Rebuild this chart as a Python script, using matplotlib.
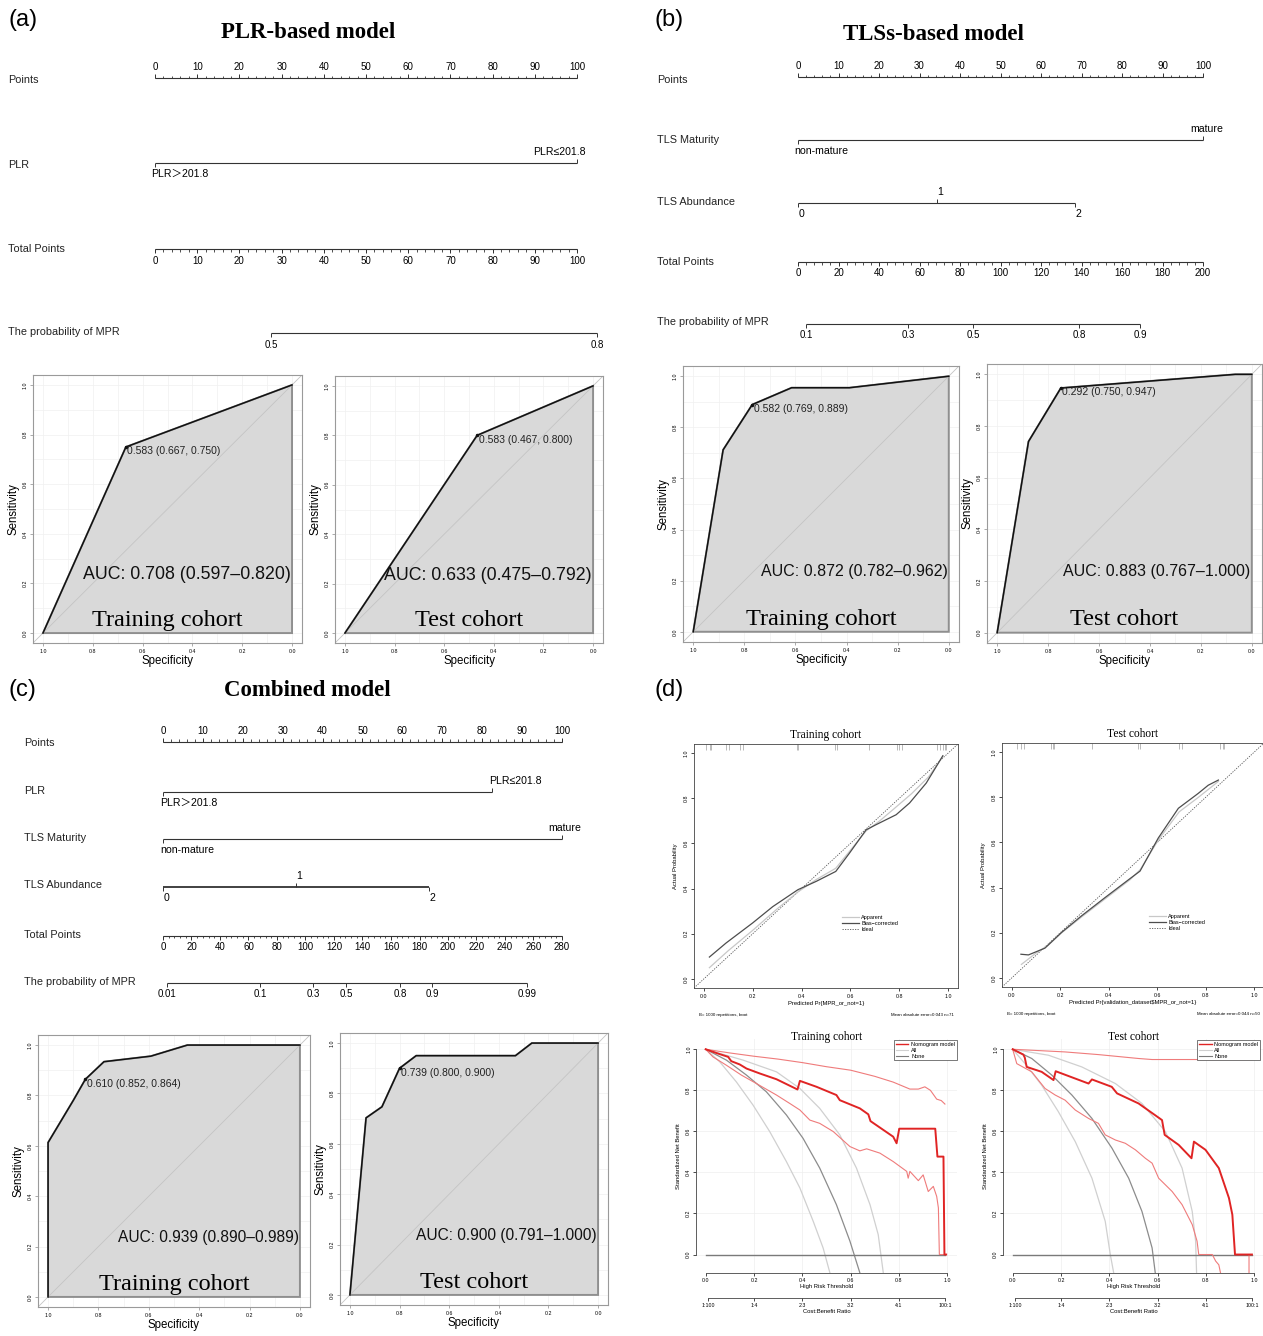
import numpy as np
import matplotlib.pyplot as plt
from matplotlib.lines import Line2D

plt.rcParams['font.family'] = ['Liberation Sans', 'Noto Sans CJK SC', 'DejaVu Sans']
SERIF = ['Liberation Serif', 'DejaVu Serif']

# ---------------- nomogram data (points units, total points units) ----------------
points_ticks = list(range(0, 101, 10))
points_minor = list(range(0, 101, 2))

# (a) PLR-based model
a_plr_pts = [0, 100]
a_plr_labels = ['PLR＞201.8', 'PLR≤201.8']
a_total_ticks = list(range(0, 101, 10))
a_total_max = 100
a_prob_labels = ['0.5', '0.8']
a_prob_tp = [27.5, 104.7]

# (b) TLSs-based model
b_mat_pts = [0, 100]
b_mat_labels = ['non-mature', 'mature']
b_abund_pts = [0, 34.3, 68.4]
b_abund_labels = ['0', '1', '2']
b_total_ticks = list(range(0, 201, 20))
b_total_max = 200
b_prob_labels = ['0.1', '0.3', '0.5', '0.8', '0.9']
b_prob_tp = [4.0, 54.3, 86.4, 138.8, 168.9]

# (c) combined model
c_plr_pts = [0, 82.5]
c_mat_pts = [0, 100]
c_abund_pts = [0, 33.3, 66.7]
c_total_ticks = list(range(0, 281, 20))
c_total_max = 280
c_prob_labels = ['0.01', '0.1', '0.3', '0.5', '0.8', '0.9', '0.99']
c_prob_tp = [2.8, 68.1, 105.3, 128.4, 166.3, 188.8, 255.4]

# ---------------- ROC data (specificity, sensitivity) ----------------
roc_a_tr_spec = [1.0, 0.667, 0.0]
roc_a_tr_sens = [0.0, 0.750, 1.0]
roc_a_te_spec = [1.0, 0.467, 0.0]
roc_a_te_sens = [0.0, 0.800, 1.0]
roc_b_tr_spec = [1.0, 0.883, 0.769, 0.615, 0.389, 0.0]
roc_b_tr_sens = [0.0, 0.712, 0.889, 0.955, 0.955, 1.0]
roc_b_te_spec = [1.0, 0.877, 0.750, 0.065, 0.0]
roc_b_te_sens = [0.0, 0.740, 0.947, 1.0, 1.0]
roc_c_tr_spec = [1.0, 1.0, 0.90, 0.852, 0.778, 0.592, 0.447, 0.0]
roc_c_tr_sens = [0.0, 0.613, 0.78, 0.864, 0.934, 0.956, 1.0, 1.0]
roc_c_te_spec = [1.0, 0.935, 0.871, 0.800, 0.733, 0.333, 0.267, 0.0]
roc_c_te_sens = [0.0, 0.703, 0.747, 0.900, 0.950, 0.950, 1.0, 1.0]

# ---------------- calibration data ----------------
cal_tr_bias_x = [0.023, 0.091, 0.2, 0.282, 0.385, 0.46, 0.54, 0.596, 0.664, 0.705, 0.787, 0.842, 0.91, 0.978]
cal_tr_bias_y = [0.097, 0.159, 0.248, 0.32, 0.395, 0.432, 0.476, 0.557, 0.66, 0.683, 0.727, 0.779, 0.867, 0.988]
cal_tr_app_x = [0.023, 0.1, 0.2, 0.3, 0.385, 0.46, 0.54, 0.6, 0.664, 0.72, 0.78, 0.85, 0.92, 0.978]
cal_tr_app_y = [0.05, 0.125, 0.215, 0.31, 0.385, 0.44, 0.49, 0.57, 0.655, 0.70, 0.755, 0.82, 0.895, 0.985]
cal_tr_rug = [0.01, 0.025, 0.03, 0.09, 0.105, 0.15, 0.16, 0.38, 0.385, 0.535, 0.545, 0.675,
              0.79, 0.80, 0.81, 0.955, 0.965, 0.98, 0.985, 0.99]
cal_te_bias_x = [0.038, 0.069, 0.137, 0.206, 0.288, 0.385, 0.488, 0.529, 0.604, 0.687, 0.769, 0.81, 0.852]
cal_te_bias_y = [0.105, 0.102, 0.132, 0.202, 0.275, 0.356, 0.44, 0.473, 0.619, 0.751, 0.817, 0.853, 0.876]
cal_te_app_x = [0.04, 0.1, 0.15, 0.206, 0.288, 0.385, 0.488, 0.53, 0.604, 0.69, 0.77, 0.852]
cal_te_app_y = [0.06, 0.11, 0.145, 0.2, 0.27, 0.35, 0.435, 0.48, 0.61, 0.735, 0.80, 0.87]
cal_te_rug = [0.02, 0.04, 0.05, 0.16, 0.17, 0.175, 0.33, 0.52, 0.53, 0.69, 0.70, 0.86, 0.87, 0.875]

# ---------------- decision curve data ----------------
dca_tr_model_x = [0, 0.051, 0.093, 0.106, 0.141, 0.169, 0.224, 0.293, 0.38, 0.39, 0.459, 0.541, 0.555,
                  0.638, 0.673, 0.682, 0.776, 0.79, 0.801, 0.95, 0.959, 0.984, 0.988, 0.995]
dca_tr_model_y = [1, 0.979, 0.963, 0.942, 0.926, 0.906, 0.882, 0.854, 0.804, 0.846, 0.817, 0.777, 0.752,
                  0.712, 0.683, 0.65, 0.574, 0.542, 0.613, 0.613, 0.477, 0.477, 0.0, 0.0]
dca_tr_up_x = [0, 0.1, 0.2, 0.3, 0.4, 0.5, 0.6, 0.7, 0.776, 0.845, 0.88, 0.907, 0.93, 0.956, 0.975, 0.99]
dca_tr_up_y = [1, 0.982, 0.966, 0.952, 0.935, 0.915, 0.898, 0.868, 0.84, 0.806, 0.806, 0.817, 0.80, 0.757, 0.75, 0.733]
dca_tr_lo_x = [0, 0.03, 0.086, 0.148, 0.21, 0.293, 0.348, 0.39, 0.431, 0.472, 0.528, 0.597, 0.638, 0.666,
               0.721, 0.776, 0.832, 0.838, 0.845, 0.88, 0.9, 0.921, 0.942, 0.956, 0.963, 0.967, 0.99]
dca_tr_lo_y = [1, 0.963, 0.922, 0.874, 0.833, 0.777, 0.736, 0.704, 0.655, 0.639, 0.599, 0.526, 0.505, 0.515,
               0.494, 0.453, 0.405, 0.372, 0.405, 0.36, 0.388, 0.307, 0.332, 0.283, 0.227, 0.0, 0.0]
dca_tr_all = [
    ([0, 0.058, 0.127, 0.196, 0.265, 0.334, 0.39, 0.445, 0.486, 0.514],
     [1, 0.939, 0.841, 0.728, 0.599, 0.453, 0.324, 0.162, 0.032, -0.089]),
    ([0, 0.086, 0.169, 0.251, 0.334, 0.403, 0.472, 0.541, 0.597, 0.638],
     [1, 0.947, 0.874, 0.793, 0.68, 0.566, 0.421, 0.243, 0.065, -0.089]),
    ([0, 0.155, 0.293, 0.39, 0.472, 0.555, 0.624, 0.68, 0.714, 0.735],
     [1, 0.947, 0.89, 0.809, 0.712, 0.583, 0.421, 0.243, 0.097, -0.089]),
]
dca_te_model_x = [0, 0.044, 0.05, 0.058, 0.12, 0.169, 0.178, 0.314, 0.328, 0.41, 0.432, 0.521, 0.618, 0.629,
                  0.687, 0.74, 0.75, 0.798, 0.853, 0.895, 0.909, 0.92, 0.99]
dca_te_model_y = [1, 0.974, 0.96, 0.914, 0.89, 0.85, 0.893, 0.833, 0.853, 0.817, 0.785, 0.736, 0.655, 0.583,
                  0.534, 0.469, 0.55, 0.51, 0.421, 0.275, 0.194, 0.0, 0.0]
dca_te_up_x = [0, 0.217, 0.355, 0.521, 0.577, 0.8, 0.99]
dca_te_up_y = [1, 0.987, 0.974, 0.955, 0.95, 0.95, 0.95]
dca_te_lo_x = [0, 0.017, 0.079, 0.134, 0.176, 0.217, 0.259, 0.314, 0.355, 0.383, 0.425, 0.466, 0.508, 0.549,
               0.577, 0.604, 0.66, 0.701, 0.743, 0.763, 0.77, 0.826, 0.84, 0.853, 0.86, np.nan, 0.978, 0.978]
dca_te_lo_y = [1, 0.93, 0.89, 0.809, 0.777, 0.752, 0.704, 0.663, 0.639, 0.583, 0.558, 0.542, 0.51, 0.469,
               0.445, 0.372, 0.307, 0.243, 0.146, 0.065, 0.0, 0.0, -0.032, -0.05, -0.089, np.nan, 0.0, -0.089]
dca_te_all = [
    ([0, 0.051, 0.12, 0.189, 0.259, 0.328, 0.383, 0.404, 0.418],
     [1, 0.93, 0.825, 0.696, 0.55, 0.372, 0.162, 0.0, -0.089]),
    ([0, 0.079, 0.162, 0.245, 0.328, 0.411, 0.48, 0.535, 0.577, 0.59],
     [1, 0.955, 0.874, 0.777, 0.663, 0.518, 0.372, 0.21, 0.032, -0.089]),
    ([0, 0.148, 0.286, 0.425, 0.535, 0.632, 0.701, 0.743, 0.757, 0.761],
     [1, 0.971, 0.914, 0.833, 0.736, 0.599, 0.421, 0.21, 0.065, -0.089]),
]
cb_pos = [0.01, 0.2, 0.4, 0.6, 0.8, 0.99]
cb_labels = ['1:100', '1:4', '2:3', '3:2', '4:1', '100:1']

# ---------------- figure ----------------
W, H = 1263, 1336
fig = plt.figure(figsize=(W / 100, H / 100), dpi=100)
fig.patch.set_facecolor('white')


def px_axes(x0, y0, x1, y1):
    return fig.add_axes([x0 / W, 1 - y1 / H, (x1 - x0) / W, (y1 - y0) / H])


def fig_text(x, y, s, **kw):
    fig.text(x / W, 1 - y / H, s, **kw)


LINE = '#333333'
TICKFS = 7.0
CATFS = 7.6
ROWFS = 7.8


def nomo_axes(x0, x1, ytop, ybot, p0, p100):
    ax = px_axes(x0, ytop, x1, ybot)
    s = (p100 - p0) / 100.0
    ax.set_xlim((x0 - p0) / s, (x1 - p0) / s)
    ax.set_ylim(ybot, ytop)
    ax.axis('off')
    ax.lx = (lambda px: (px - x0) / (x1 - x0))
    return ax


def row_name(ax, px, y, name):
    ax.text(ax.lx(px), y, name, transform=ax.get_yaxis_transform(), fontsize=ROWFS,
            ha='left', va='center', color='#222222')


def axis_row(ax, y, pos, labels, above, minor=None, lw=0.8):
    ax.plot([min(pos), max(pos)], [y, y], color=LINE, lw=lw, solid_capstyle='butt')
    sign = -1 if above else 1
    ax.vlines(pos, y, y + sign * 4, color=LINE, lw=0.7)
    if minor is not None:
        ax.vlines(minor, y, y + sign * 2.5, color=LINE, lw=0.6)
    for p, lab in zip(pos, labels):
        if above:
            ax.text(p, y - 6, lab, ha='center', va='bottom', fontsize=TICKFS)
        else:
            ax.text(p, y + 6.5, lab, ha='center', va='top', fontsize=TICKFS)


def cat_row(ax, y, pos, labels, above, ha, lw=0.8):
    ax.plot([min(pos), max(pos)], [y, y], color=LINE, lw=lw, solid_capstyle='butt')
    for p, lab, up, h in zip(pos, labels, above, ha):
        sign = -1 if up else 1
        ax.vlines([p], y, y + sign * 4, color=LINE, lw=0.7)
        dx = {'left': -0.8, 'right': 2.0, 'center': 0.8}[h]
        if up:
            ax.text(p + dx, y - 6, lab, ha=h, va='bottom', fontsize=CATFS)
        else:
            ax.text(p + dx, y + 6, lab, ha=h, va='top', fontsize=CATFS)


def scaled(vals, vmax):
    return [v * 100.0 / vmax for v in vals]


# ---- (a) nomogram
fig_text(8, 20, '(a)', fontsize=17, ha='left', va='center')
fig_text(308, 33, 'PLR-based model', family=SERIF, fontweight='bold', fontsize=16.5, ha='center', va='center')
ax = nomo_axes(0, 640, 45, 360, 155, 577)
row_name(ax, 8, 80, 'Points')
axis_row(ax, 78, points_ticks, [str(t) for t in points_ticks], True, minor=points_minor)
row_name(ax, 8, 165, 'PLR')
cat_row(ax, 163, a_plr_pts, a_plr_labels, [False, True], ['left', 'right'])
row_name(ax, 8, 249, 'Total Points')
axis_row(ax, 249, scaled(a_total_ticks, a_total_max), [str(t) for t in a_total_ticks], False,
         minor=scaled(range(0, a_total_max + 1, 2), a_total_max))
row_name(ax, 8, 332, 'The probability of MPR')
axis_row(ax, 333, scaled(a_prob_tp, a_total_max), a_prob_labels, False)

# ---- (b) nomogram
fig_text(655, 20, '(b)', fontsize=17, ha='left', va='center')
fig_text(934, 35, 'TLSs-based model', family=SERIF, fontweight='bold', fontsize=16.5, ha='center', va='center')
ax = nomo_axes(645, 1263, 45, 350, 798, 1203)
row_name(ax, 657, 80, 'Points')
axis_row(ax, 77, points_ticks, [str(t) for t in points_ticks], True, minor=points_minor)
row_name(ax, 657, 140, 'TLS Maturity')
cat_row(ax, 140, b_mat_pts, b_mat_labels, [False, True], ['left', 'center'])
row_name(ax, 657, 202, 'TLS Abundance')
cat_row(ax, 203, b_abund_pts, b_abund_labels, [False, True, False], ['center', 'center', 'center'])
row_name(ax, 657, 262, 'Total Points')
axis_row(ax, 262, scaled(b_total_ticks, b_total_max), [str(t) for t in b_total_ticks], False,
         minor=scaled(range(0, b_total_max + 1, 4), b_total_max))
row_name(ax, 657, 322, 'The probability of MPR')
axis_row(ax, 324, scaled(b_prob_tp, b_total_max), b_prob_labels, False)

# ---- (c) nomogram
fig_text(8, 690, '(c)', fontsize=17, ha='left', va='center')
fig_text(307, 690, 'Combined model', family=SERIF, fontweight='bold', fontsize=16.5, ha='center', va='center')
ax = nomo_axes(0, 640, 712, 1008, 163, 562)
row_name(ax, 24, 743, 'Points')
axis_row(ax, 742, points_ticks, [str(t) for t in points_ticks], True, minor=points_minor)
row_name(ax, 24, 791, 'PLR')
cat_row(ax, 792, c_plr_pts, a_plr_labels, [False, True], ['left', 'left'])
row_name(ax, 24, 838, 'TLS Maturity')
cat_row(ax, 839, c_mat_pts, b_mat_labels, [False, True], ['left', 'center'])
row_name(ax, 24, 885, 'TLS Abundance')
cat_row(ax, 887, c_abund_pts, b_abund_labels, [False, True, False], ['center', 'center', 'center'], lw=1.3)
row_name(ax, 24, 935, 'Total Points')
axis_row(ax, 936, scaled(c_total_ticks, c_total_max), [str(t) for t in c_total_ticks], False,
         minor=scaled(range(0, c_total_max + 1, 4), c_total_max))
row_name(ax, 24, 982, 'The probability of MPR')
axis_row(ax, 983, scaled(c_prob_tp, c_total_max), c_prob_labels, False)


# ---------------- ROC panels ----------------
def roc_panel(rect, spec, sens, thr, thr_text, auc_text, cohort, auc_fs=11.5):
    ax = px_axes(*rect)
    ax.set_xlim(1.04, -0.04)
    ax.set_ylim(-0.04, 1.04)
    for v in np.arange(0.0, 1.01, 0.1):
        ax.axvline(v, color='#f0f0f0', lw=0.5, zorder=0)
        ax.axhline(v, color='#f0f0f0', lw=0.5, zorder=0)
    ax.fill(list(spec) + [0.0], list(sens) + [0.0], facecolor='#d9d9d9', edgecolor='#8f8f8f',
            lw=1.4, zorder=1)
    ax.plot([1.04, -0.04], [-0.04, 1.04], color='#c4c4c4', lw=0.6, zorder=2)
    ax.plot(spec, sens, color='#111111', lw=1.1, zorder=3)
    ax.plot([thr[0]], [thr[1]], 'o', ms=1.5, color='#111111', zorder=4)
    ax.text(thr[0] - 0.006, thr[1] + 0.003, thr_text, ha='left', va='top', fontsize=7.5,
            color='#222222', zorder=5)
    ax.text(0.005, 0.235, auc_text, ha='right', va='center', fontsize=auc_fs, color='#111111', zorder=5)
    ax.text(0.5, 0.05, cohort, ha='center', va='center', family=SERIF, fontsize=17.5, zorder=5)
    ticks = [1.0, 0.8, 0.6, 0.4, 0.2, 0.0]
    ax.set_xticks(ticks, ['%.1f' % t for t in ticks])
    ax.set_yticks(ticks, ['%.1f' % t for t in ticks])
    ax.tick_params(labelsize=3.8, length=2, width=0.5, color='#888888', pad=2)
    for lab in ax.get_yticklabels():
        lab.set_rotation(90)
        lab.set_va('center')
    for sp in ax.spines.values():
        sp.set_color('#9a9a9a')
        sp.set_linewidth(0.8)
    ax.set_xlabel('Specificity', fontsize=8.3, labelpad=1)
    ax.set_ylabel('Sensitivity', fontsize=8.3, labelpad=2)
    return ax


roc_panel((33, 375, 302, 643), roc_a_tr_spec, roc_a_tr_sens, (0.667, 0.750), '0.583 (0.667, 0.750)',
          'AUC: 0.708 (0.597–0.820)', 'Training cohort', auc_fs=12.8)
roc_panel((335, 376, 603, 643), roc_a_te_spec, roc_a_te_sens, (0.467, 0.800), '0.583 (0.467, 0.800)',
          'AUC: 0.633 (0.475–0.792)', 'Test cohort', auc_fs=12.8)
roc_panel((683, 366, 959, 642), roc_b_tr_spec, roc_b_tr_sens, (0.769, 0.889), '0.582 (0.769, 0.889)',
          'AUC: 0.872 (0.782–0.962)', 'Training cohort')
roc_panel((987, 364, 1262, 643), roc_b_te_spec, roc_b_te_sens, (0.750, 0.947), '0.292 (0.750, 0.947)',
          'AUC: 0.883 (0.767–1.000)', 'Test cohort')
roc_panel((38, 1035, 310, 1307), roc_c_tr_spec, roc_c_tr_sens, (0.852, 0.864), '0.610 (0.852, 0.864)',
          'AUC: 0.939 (0.890–0.989)', 'Training cohort', auc_fs=11.2)
roc_panel((340, 1033, 608, 1305), roc_c_te_spec, roc_c_te_sens, (0.800, 0.900), '0.739 (0.800, 0.900)',
          'AUC: 0.900 (0.791–1.000)', 'Test cohort', auc_fs=11.2)

# ---------------- (d) calibration ----------------
fig_text(655, 690, '(d)', fontsize=17, ha='left', va='center')


def calib_panel(rect, title, xlabel, app_x, app_y, bias_x, bias_y, rug, mae_text):
    ax = px_axes(*rect)
    ax.set_xlim(-0.04, 1.04)
    ax.set_ylim(-0.04, 1.04)
    l_ideal, = ax.plot([-0.04, 1.04], [-0.04, 1.04], ls=(0, (1.5, 1.5)), color='#555555', lw=0.6)
    l_app, = ax.plot(app_x, app_y, color='#c8c8c8', lw=0.9)
    l_bias, = ax.plot(bias_x, bias_y, color='#4d4d4d', lw=0.9)
    ax.vlines(rug, 1.015, 1.04, color='#a0a0a0', lw=0.5)
    ax.legend([l_app, l_bias, l_ideal], ['Apparent', 'Bias−corrected', 'Ideal'], loc='upper left',
              bbox_to_anchor=(0.55, 0.31), frameon=False, fontsize=4, handlelength=3,
              labelspacing=0.15, borderpad=0, handletextpad=0.5)
    ticks = [0.0, 0.2, 0.4, 0.6, 0.8, 1.0]
    ax.set_xticks(ticks, ['%.1f' % t for t in ticks])
    ax.set_yticks(ticks, ['%.1f' % t for t in ticks])
    ax.tick_params(labelsize=3.8, length=2, width=0.5, pad=2)
    for lab in ax.get_yticklabels():
        lab.set_rotation(90)
        lab.set_va('center')
    for sp in ax.spines.values():
        sp.set_linewidth(0.6)
        sp.set_color('#444444')
    ax.set_title(title, family=SERIF, fontsize=8.3, pad=4)
    ax.set_xlabel(xlabel, fontsize=4.2, labelpad=2)
    ax.set_ylabel('Actual Probability', fontsize=4.2, labelpad=4)
    ax.text(0.02, -0.11, 'B= 1000 repetitions, boot', transform=ax.transAxes, fontsize=3.2, va='center')
    ax.text(0.985, -0.11, mae_text, transform=ax.transAxes, fontsize=3.2, va='center', ha='right')
    return ax


calib_panel((694, 744, 958, 988), 'Training cohort', 'Predicted Pr{MPR_or_not=1}',
            cal_tr_app_x, cal_tr_app_y, cal_tr_bias_x, cal_tr_bias_y, cal_tr_rug,
            'Mean absolute error=0.043 n=71')
calib_panel((1002, 743, 1264, 987), 'Test cohort', r'Predicted Pr{validation_dataset\$MPR_or_not=1}',
            cal_te_app_x, cal_te_app_y, cal_te_bias_x, cal_te_bias_y, cal_te_rug,
            'Mean absolute error=0.044 n=50')


# ---------------- (d) decision curves ----------------
def dca_panel(rect, title, mx, my, ux, uy, lox, loy, all_curves, leg_loc, leg_anchor):
    ax = px_axes(*rect)
    ax.set_xlim(-0.04, 1.04)
    ax.set_ylim(-0.09, 1.05)
    for v in [0.2, 0.4, 0.6, 0.8, 1.0]:
        ax.axvline(v, color='#eeeeee', lw=0.5, zorder=0)
    for v in [0.0, 0.2, 0.4, 0.6, 0.8, 1.0]:
        ax.axhline(v, color='#eeeeee', lw=0.5, zorder=0)
    for i, (xs, ys) in enumerate(all_curves):
        ax.plot(xs, ys, color='#8c8c8c' if i == 1 else '#d0d0d0', lw=0.9, zorder=2)
    ax.plot([0, 0.99], [0, 0], color='#7a7a7a', lw=1.0, zorder=2)
    ax.plot(ux, uy, color='#ef7b7b', lw=0.8, zorder=3)
    ax.plot(lox, loy, color='#ef7b7b', lw=0.8, zorder=3)
    ax.plot(mx, my, color='#e02424', lw=1.4, zorder=4)
    handles = [Line2D([], [], color='#e02424', lw=1.0), Line2D([], [], color='#d0d0d0', lw=0.8),
               Line2D([], [], color='#7a7a7a', lw=0.8)]
    leg = ax.legend(handles, ['Nomogram model', 'All', 'None'], loc=leg_loc, bbox_to_anchor=leg_anchor,
                    fontsize=4, fancybox=False, framealpha=1, edgecolor='#444444', borderpad=0.35,
                    handlelength=2.2, handletextpad=0.5, labelspacing=0.15, borderaxespad=0)
    leg.get_frame().set_linewidth(0.5)
    leg.set_zorder(10)
    ax.spines['top'].set_visible(False)
    ax.spines['right'].set_visible(False)
    ax.spines['left'].set_bounds(0, 1)
    ax.spines['bottom'].set_bounds(0, 1)
    for sp in ['left', 'bottom']:
        ax.spines[sp].set_linewidth(0.6)
        ax.spines[sp].set_color('#444444')
    ticks = [0.0, 0.2, 0.4, 0.6, 0.8, 1.0]
    ax.set_xticks(ticks, ['%.1f' % t for t in ticks])
    ax.set_yticks(ticks, ['%.1f' % t for t in ticks])
    ax.tick_params(labelsize=3.8, length=2, width=0.5, pad=1.5)
    for lab in ax.get_yticklabels():
        lab.set_rotation(90)
        lab.set_va('center')
    ax.set_xlabel('High Risk Threshold', fontsize=4.2, labelpad=1)
    ax.set_ylabel('Standardized Net Benefit', fontsize=4.2, labelpad=4)
    ax.text(0.5, 1.01, title, transform=ax.transAxes, family=SERIF, fontsize=8.3, ha='center', va='center')
    sec = ax.secondary_xaxis(-25 / 234)
    sec.set_xticks(cb_pos, cb_labels)
    sec.tick_params(labelsize=3.8, length=2, width=0.5, pad=1.5)
    sec.spines['bottom'].set_bounds(0.01, 0.99)
    sec.spines['bottom'].set_linewidth(0.6)
    sec.spines['bottom'].set_color('#444444')
    sec.set_xlabel('Cost:Benefit Ratio', fontsize=4.2, labelpad=0.5)
    return ax


dca_panel((696, 1039, 957, 1273), 'Training cohort', dca_tr_model_x, dca_tr_model_y,
          dca_tr_up_x, dca_tr_up_y, dca_tr_lo_x, dca_tr_lo_y, dca_tr_all, 'upper right', (1.0, 0.996))
dca_panel((1003, 1039, 1264, 1273), 'Test cohort', dca_te_model_x, dca_te_model_y,
          dca_te_up_x, dca_te_up_y, dca_te_lo_x, dca_te_lo_y, dca_te_all, 'upper left', (0.745, 0.996))

fig.savefig('out.png', dpi=100, facecolor='white')
